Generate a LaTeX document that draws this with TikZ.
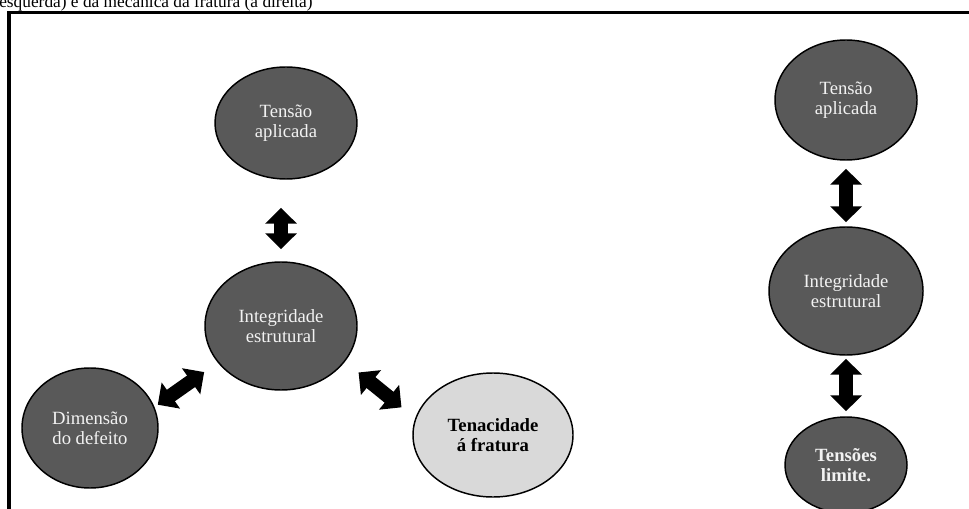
\documentclass[tikz,border=0pt]{standalone}
\usepackage{fontspec}
\setmainfont{Liberation Serif}
\usetikzlibrary{shapes.geometric,arrows.meta}

\definecolor{bubble}{HTML}{595959}
\definecolor{paleblob}{HTML}{D9D9D9}
\definecolor{labelwhite}{HTML}{F2F2F2}

\tikzset{
  bubble/.style={ellipse, draw=black, line width=1.1pt, fill=bubble,
    inner sep=0pt, align=center, text=labelwhite,
    font=\fontsize{14}{15}\selectfont},
  paleblob/.style={bubble, fill=paleblob, text=black,
    font=\fontsize{14}{15}\selectfont\bfseries},
  boldbubble/.style={bubble, font=\fontsize{14}{15}\selectfont\bfseries},
  bigarr/.style={line width=10.5pt, draw=black,
    {Triangle[width=23.25pt,length=12pt]}-{Triangle[width=23.25pt,length=12pt]}},
}

\begin{document}
\begin{tikzpicture}[x=0.75pt,y=-0.75pt]
\useasboundingbox (0,0) rectangle (969,509);

% caption line running off the top edge
\node[anchor=base west, inner sep=0pt, font=\fontsize{13}{15}\selectfont]
  (caption) at (-1,7.5) {esquerda) e da mecânica da fratura (à direita)};

% frame (only top and left edges fall inside the page)
\draw[line width=2.6pt, line join=miter] (9,520) -- (9,12.5) -- (980,12.5);

% left group
\node[bubble, minimum width=106.5pt, minimum height=84pt] (tensL) at (286,123) {Tensão\\aplicada};
\node[bubble, minimum width=114pt, minimum height=96pt] (integL) at (281,326) {Integridade\\estrutural};
\node[bubble, minimum width=102pt, minimum height=90pt] (dimL) at (90,428) {Dimensão\\do defeito};
\node[paleblob, minimum width=120pt, minimum height=93pt] (tenac) at (493,435) {Tenacidade\\á fratura};

\draw[bigarr, shorten <=9pt, shorten >=21pt] (integL.north) -- (integL.north |- tensL.south);
\draw[bigarr, shorten <=3pt, shorten >=12.4pt] (dimL.18.1) -- (integL.210.4);
\draw[bigarr, shorten <=13pt, shorten >=13.2pt] (integL.331.2) -- (tenac.168.5);

% right group
\node[bubble, minimum width=106.5pt, minimum height=90pt] (tensR) at (846,100) {Tensão\\aplicada};
\node[bubble, minimum width=115.5pt, minimum height=96pt] (integR) at (846,291) {Integridade\\estrutural};
\node[boldbubble, minimum width=91.5pt, minimum height=72pt] (limR) at (846,465) {Tensões\\limite.};

\draw[bigarr, shorten <=6pt, shorten >=3pt] (tensR.south) -- (integR.north);
\draw[bigarr, shorten <=2.25pt, shorten >=3.75pt] (integR.south) -- (limR.north);
\end{tikzpicture}
\end{document}
